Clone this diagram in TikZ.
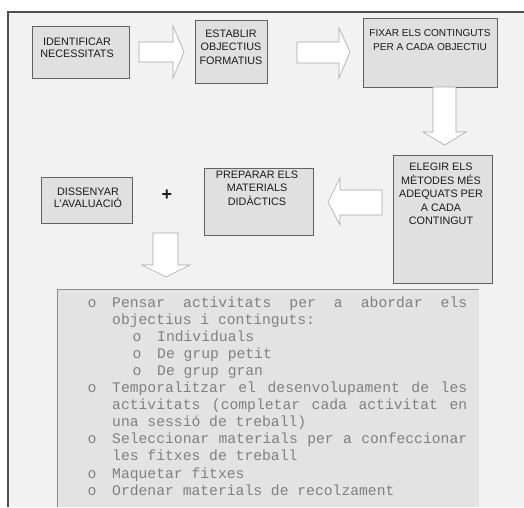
\documentclass[tikz,border=0pt]{standalone}
\usepackage{fontspec}
\setmainfont{Liberation Sans}
\setmonofont{Liberation Mono}
\definecolor{framebg}{HTML}{F2F2F2}
\definecolor{frameline}{HTML}{505050}
\definecolor{boxfill}{HTML}{E0E0E0}
\definecolor{boxline}{HTML}{626262}
\definecolor{handtext}{HTML}{1A1A1A}
\definecolor{arrowline}{HTML}{A8A8A8}
\definecolor{listfill}{HTML}{E3E3E3}
\definecolor{listline}{HTML}{8C8C8C}
\definecolor{monotext}{HTML}{808080}
\tikzset{
  box/.style={draw=boxline, fill=boxfill, line width=0.9pt, inner sep=0pt},
  hand/.style={font=\fontsize{10.8}{13.5}\selectfont, text=handtext, align=center, inner sep=0pt},
  blockarrow/.style={draw=arrowline, fill=white, line width=0.6pt, line join=miter},
  mono/.style={font=\fontsize{14.7}{17}\selectfont\ttfamily, text=monotext, inner sep=0pt, anchor=base west},
  bulletmark/.style={font=\fontsize{14.7}{17}\selectfont\ttfamily, text=monotext, inner sep=0pt, anchor=base}
}
\newcommand{\jline}[1]{\makebox[355pt][s]{#1}}
\begin{document}
\begin{tikzpicture}[x=1pt,y=-1pt]
\useasboundingbox (0,0) rectangle (524,507);
\fill[white] (0,0) rectangle (524,507);
% frame
\fill[framebg] (8,12) rectangle (524,507);
\draw[frameline, line width=1.1pt] (8,507) -- (8,12) -- (524,12);

% boxes
\node[box, minimum width=97, minimum height=52] (b1) at (80.5,52) {};
\node[hand, font=\fontsize{10.8}{11.5}\selectfont] (t1) at (77,48) {IDENTIFICAR\\NECESSITATS};
\node[box, minimum width=72, minimum height=63] (b2) at (231,51.5) {};
\node[hand] (t2) at (231,47) {ESTABLIR\\OBJECTIUS\\FORMATIUS};
\node[box, minimum width=134, minimum height=69] (b3) at (430,52.5) {};
\node[hand, font=\fontsize{10.1}{13.5}\selectfont] (t3) at (430,40) {FIXAR ELS CONTINGUTS\\PER A CADA OBJECTIU};
\node[box, minimum width=99, minimum height=128] (b4) at (442.5,219) {};
\node[hand] (t4) at (441,194) {ELEGIR ELS\\MÈTODES MÉS\\ADEQUATS PER\\A CADA\\CONTINGUT};
\node[box, minimum width=109, minimum height=67] (b5) at (258.5,201.5) {};
\node[hand] (t5) at (257,188) {PREPARAR ELS\\MATERIALS\\DIDÀCTICS};
\node[box, minimum width=91, minimum height=46] (b6) at (86.5,200) {};
\node[hand, font=\fontsize{10.8}{11.5}\selectfont] (t6) at (88,198) {DISSENYAR\\L'AVALUACIÓ};
\node[font=\fontsize{18}{18}\selectfont\bfseries, text=handtext, inner sep=0pt] (plus) at (167,195) {+};

% block arrows
\draw[blockarrow] (139,42) -- (173,42) -- (173,26) -- (184,52) -- (173,78) -- (173,62) -- (139,62) -- cycle;
\draw[blockarrow] (297,42) -- (339,42) -- (339,28) -- (350,52) -- (339,78) -- (339,63) -- (297,63) -- cycle;
\draw[blockarrow] (433,87) -- (456,87) -- (456,132) -- (466,132) -- (444.5,145) -- (423,132) -- (433,132) -- cycle;
\draw[blockarrow] (382,190) -- (340,190) -- (340,178) -- (328,202) -- (340,225) -- (340,215) -- (382,215) -- cycle;
\draw[blockarrow] (153,233) -- (178,233) -- (178,265) -- (190,265) -- (166,277) -- (142,265) -- (153,265) -- cycle;

% list box
\fill[listfill] (57,289) rectangle (479,507);
\draw[listline, line width=1pt] (57,507) -- (57,289) -- (479,289);

% list lines
\node[bulletmark] (o1) at (92,307) {o};
\node[mono] (l1) at (112,307) {\jline{Pensar\hfill activitats\hfill per\hfill a\hfill abordar\hfill els}};
\node[mono] (l2) at (112,324.1) {objectius i continguts:};
\node[bulletmark] (o3) at (137,341.2) {o};
\node[mono] (l3) at (157,341.2) {Individuals};
\node[bulletmark] (o4) at (137,358.3) {o};
\node[mono] (l4) at (157,358.3) {De grup petit};
\node[bulletmark] (o5) at (137,375.4) {o};
\node[mono] (l5) at (157,375.4) {De grup gran};
\node[bulletmark] (o6) at (92,392.5) {o};
\node[mono] (l6) at (112,392.5) {\jline{Temporalitzar\hfill el\hfill desenvolupament\hfill de\hfill les}};
\node[mono] (l7) at (112,409.6) {\jline{activitats\hfill (completar\hfill cada\hfill activitat\hfill en}};
\node[mono] (l8) at (112,426.7) {una sessió de treball)};
\node[bulletmark] (o9) at (92,443.8) {o};
\node[mono] (l9) at (112,443.8) {\jline{Seleccionar\hfill materials\hfill per\hfill a\hfill confeccionar}};
\node[mono] (l10) at (112,460.9) {les fitxes de treball};
\node[bulletmark] (o11) at (92,478) {o};
\node[mono] (l11) at (112,478) {Maquetar fitxes};
\node[bulletmark] (o12) at (92,495.1) {o};
\node[mono] (l12) at (112,495.1) {Ordenar materials de recolzament};
\end{tikzpicture}
\end{document}
